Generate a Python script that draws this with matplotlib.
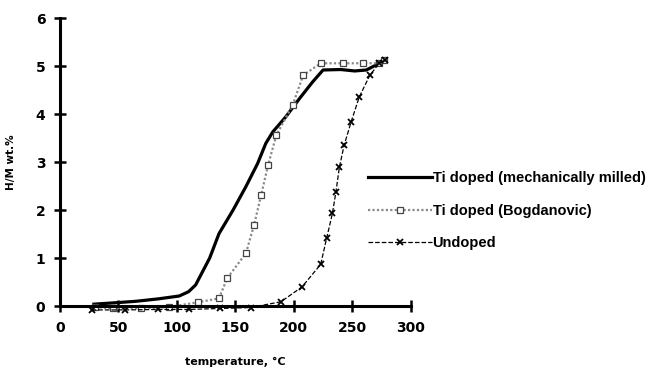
import matplotlib
matplotlib.use("Agg")
from matplotlib import pyplot as plt

# Ti doped (mechanically milled)
milled_t = [29, 48, 65, 84, 102, 110, 116, 122, 128, 136, 148, 159, 169, 176, 182,
            193, 205, 216, 225, 240, 252, 262, 270, 276]
milled_w = [0.04, 0.07, 0.10, 0.15, 0.21, 0.30, 0.44, 0.72, 1.0, 1.51, 2.0, 2.49, 2.97,
            3.39, 3.63, 3.94, 4.33, 4.67, 4.92, 4.93, 4.90, 4.92, 5.02, 5.12]

# Ti doped (Bogdanovic)
bogd_t = [30, 45, 69, 93, 118, 136, 143, 159, 166, 172, 178, 185, 199, 208, 223,
          242, 259, 273, 277]
bogd_w = [-0.02, -0.05, -0.05, -0.02, 0.08, 0.16, 0.58, 1.1, 1.69, 2.31, 2.94, 3.56,
          4.19, 4.81, 5.06, 5.06, 5.06, 5.06, 5.12]

# Undoped
undoped_t = [27, 56, 84, 110, 137, 163, 189, 207, 223, 228, 233, 236, 239, 243, 249,
             256, 265, 273, 278]
undoped_w = [-0.08, -0.08, -0.07, -0.07, -0.05, -0.03, 0.09, 0.4, 0.87, 1.41, 1.93,
             2.38, 2.9, 3.35, 3.84, 4.36, 4.81, 5.06, 5.13]

labels = ["Ti doped (mechanically milled)", "Ti doped (Bogdanovic)", "Undoped"]

fig = plt.figure(figsize=(6.52, 3.71), dpi=100)
ax = fig.add_axes([0.092, 0.175, 0.538, 0.776])

ax.plot(milled_t, milled_w, color="black", lw=2.3, label=labels[0])
ax.plot(bogd_t, bogd_w, color="#8a8a8a", lw=1.6, ls=(0, (1, 1)), marker="s", ms=5,
        mfc="white", mec="#444444", mew=0.9, label=labels[1])
ax.plot(undoped_t, undoped_w, color="black", lw=0.9, ls="--", marker="x", ms=5,
        mew=1.3, label=labels[2])

ax.set_xlim(0, 300)
ax.set_ylim(0, 6)
ax.set_xticks(range(0, 301, 50))
ax.set_yticks(range(0, 7))
for s in ["top", "right"]:
    ax.spines[s].set_visible(False)
for s in ["left", "bottom"]:
    ax.spines[s].set_linewidth(2.2)
ax.tick_params(direction="inout", length=9, width=1.8, labelsize=10, pad=6)
for lab in ax.get_xticklabels() + ax.get_yticklabels():
    lab.set_fontweight("bold")
for l in ax.lines:
    l.set_clip_on(False)

ax.set_xlabel("temperature, °C", fontsize=8, fontweight="bold", labelpad=16)
ax.set_ylabel("H/M wt.%", fontsize=7.5, fontweight="bold", labelpad=14)

fig.legend(loc="upper left", bbox_to_anchor=(0.564, 0.538), frameon=False,
           prop={"family": "Liberation Sans", "weight": "bold", "size": 10.5},
           handlelength=4.4, handletextpad=0.05, labelspacing=1.25,
           borderpad=0, borderaxespad=0, markerscale=0.8)

fig.savefig("out.png", dpi=100)
